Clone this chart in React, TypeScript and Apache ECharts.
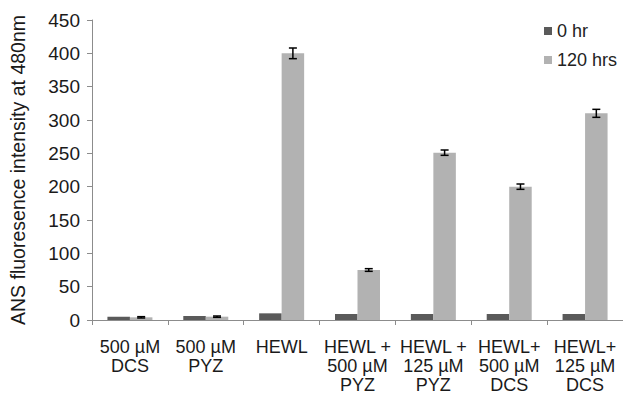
import React, { useEffect, useRef } from "react";
import * as echarts from "echarts";

const categories = [
  "500 µM\nDCS",
  "500 µM\nPYZ",
  "HEWL",
  "HEWL +\n500 µM\nPYZ",
  "HEWL +\n125 µM\nPYZ",
  "HEWL+\n500 µM\nDCS",
  "HEWL+\n125 µM\nDCS",
];
const series0hr = [5, 6, 10, 9, 9, 9, 9];
const series120hrs = [4, 5, 400, 75, 251, 200, 310];
const err120hrs = [1, 1, 8, 2, 4, 4, 6];
const yTicks = [0, 50, 100, 150, 200, 250, 300, 350, 400, 450];

const BAR_W = 22.5;
const FONT = "Liberation Sans, Arial, sans-serif";

export default function App() {
  const ref = useRef<HTMLDivElement>(null);
  useEffect(() => {
    if (!ref.current) return;
    const chart = echarts.init(ref.current, null, { renderer: "svg" });
    const errData = series120hrs.map((v, i) => [i, v - err120hrs[i], v + err120hrs[i]]);
    chart.setOption({
      animation: false,
      backgroundColor: "#ffffff",
      textStyle: { fontFamily: FONT },
      grid: { left: 91, top: 20, bottom: 72, width: 540 },
      legend: {
        orient: "vertical",
        left: 539,
        top: 17,
        itemWidth: 8,
        itemHeight: 8,
        itemGap: 11,
        icon: "rect",
        textStyle: { fontSize: 18, color: "#222", fontFamily: FONT },
        data: ["0 hr", "120 hrs"],
      },
      xAxis: {
        type: "category",
        data: categories,
        axisLine: { lineStyle: { color: "#8c8c8c", width: 1 } },
        axisTick: { show: true, alignWithLabel: false, length: 5, lineStyle: { color: "#8c8c8c" } },
        axisLabel: {
          fontSize: 18,
          color: "#1a1a1a",
          lineHeight: 19,
          margin: 17,
          interval: 0,
          fontFamily: FONT,
        },
      },
      yAxis: {
        type: "value",
        min: yTicks[0],
        max: yTicks[yTicks.length - 1],
        interval: 50,
        name: "ANS fluoresence intensity at 480nm",
        nameLocation: "middle",
        nameGap: 64,
        nameTextStyle: { fontSize: 19.5, color: "#1a1a1a", fontFamily: FONT },
        axisLine: { show: true, lineStyle: { color: "#8c8c8c", width: 1 } },
        axisTick: { show: true, length: 5, lineStyle: { color: "#8c8c8c" } },
        splitLine: { show: false },
        axisLabel: { fontSize: 19, color: "#1a1a1a", margin: 12, fontFamily: FONT },
      },
      series: [
        {
          name: "0 hr",
          type: "bar",
          data: series0hr,
          barWidth: BAR_W,
          barGap: "0%",
          itemStyle: { color: "#5a5a5a" },
        },
        {
          name: "120 hrs",
          type: "bar",
          data: series120hrs,
          barWidth: BAR_W,
          barGap: "0%",
          itemStyle: { color: "#b2b2b2" },
        },
        {
          name: "err",
          type: "custom",
          data: errData,
          z: 10,
          renderItem: (params: any, api: any) => {
            const i = api.value(0);
            const lo = api.coord([i, api.value(1)]);
            const hi = api.coord([i, api.value(2)]);
            const x = lo[0] + BAR_W / 2;
            const cap = 4;
            const style = { stroke: "#000", lineWidth: 1.5 };
            return {
              type: "group",
              children: [
                { type: "line", shape: { x1: x, y1: lo[1], x2: x, y2: hi[1] }, style },
                { type: "line", shape: { x1: x - cap, y1: lo[1], x2: x + cap, y2: lo[1] }, style },
                { type: "line", shape: { x1: x - cap, y1: hi[1], x2: x + cap, y2: hi[1] }, style },
              ],
            };
          },
          encode: { x: 0, y: [1, 2] },
        },
      ],
    });
    return () => chart.dispose();
  }, []);
  return <div ref={ref} style={{ width: 623, height: 394, position: "absolute", left: 0, top: 0 }} />;
}
